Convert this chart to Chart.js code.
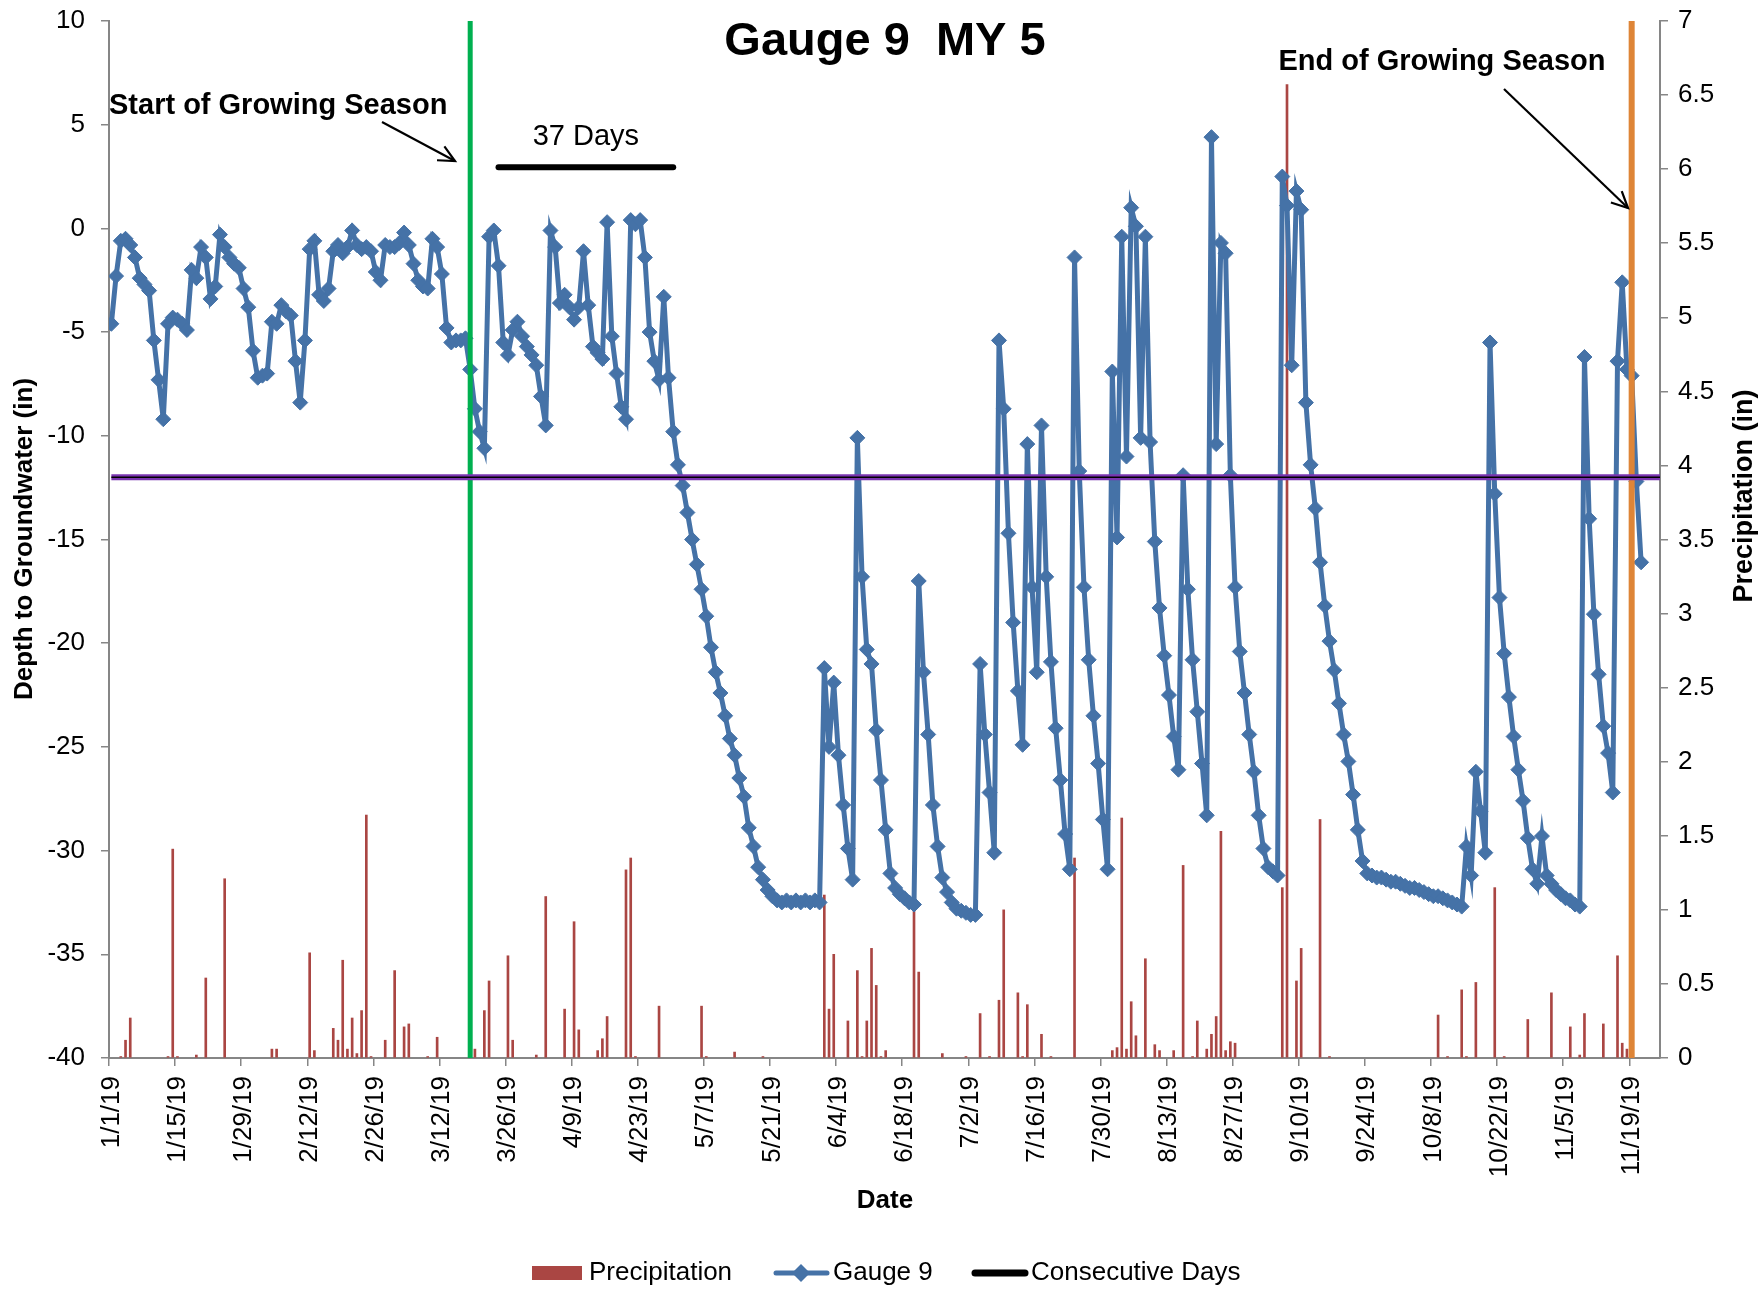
<!DOCTYPE html>
<html>
<head>
<meta charset="utf-8">
<script src="https://cdn.jsdelivr.net/npm/chart.js@4.4.1/dist/chart.umd.min.js"></script>
<style>
html,body{margin:0;padding:0;background:#ffffff;}
#wrap{width:1763px;height:1309px;position:relative;}
</style>
</head>
<body>
<div id="wrap"><canvas id="c" width="1763" height="1309"></canvas></div>
<script>
// ---------------- data ----------------
const chartTitle = 'Gauge 9  MY 5';
const tickLabels = ['1/1/19','1/15/19','1/29/19','2/12/19','2/26/19','3/12/19','3/26/19','4/9/19',
  '4/23/19','5/7/19','5/21/19','6/4/19','6/18/19','7/2/19','7/16/19','7/30/19','8/13/19','8/27/19',
  '9/10/19','9/24/19','10/8/19','10/22/19','11/5/19','11/19/19'];
const axisStart = '1/1/19';
const axisEnd = '11/25/19';
const gaugeStart = '1/1/19';   // first daily reading; one value per day after it
const gaugeDepth = [
  -4.6,-2.3,-0.6,-0.5,-0.8,-1.4,-2.4,-2.7,-3.0,-5.4,
  -7.3,-9.2,-4.6,-4.3,-4.4,-4.6,-4.9,-2.0,-2.4,-0.9,
  -1.4,-3.4,-2.8,-0.3,-0.9,-1.4,-1.7,-1.9,-2.9,-3.8,
  -5.9,-7.2,-7.1,-7.0,-4.5,-4.6,-3.7,-4.0,-4.2,-6.4,
  -8.4,-5.4,-1.0,-0.6,-3.2,-3.5,-2.9,-1.1,-0.8,-1.2,
  -0.9,-0.1,-0.8,-1.0,-0.9,-1.1,-2.1,-2.5,-0.8,-0.9,
  -0.9,-0.7,-0.2,-0.8,-1.7,-2.5,-2.8,-2.9,-0.5,-0.9,
  -2.2,-4.8,-5.5,-5.4,-5.4,-5.3,-6.8,-8.7,-9.8,-10.6,
  -0.4,-0.1,-1.8,-5.5,-6.1,-4.9,-4.5,-5.2,-5.7,-6.1,
  -6.6,-8.1,-9.5,-0.1,-0.9,-3.6,-3.2,-3.8,-4.4,-3.8,
  -1.1,-3.7,-5.7,-6.0,-6.3,0.3,-5.2,-7.0,-8.6,-9.2,
  0.4,0.2,0.4,-1.4,-5.0,-6.4,-7.3,-3.3,-7.2,-9.8,
  -11.4,-12.4,-13.7,-15.0,-16.2,-17.4,-18.7,-20.2,-21.4,-22.4,
  -23.5,-24.6,-25.4,-26.5,-27.4,-28.9,-29.8,-30.8,-31.4,-31.9,
  -32.2,-32.4,-32.5,-32.4,-32.5,-32.4,-32.5,-32.4,-32.5,-32.4,
  -32.5,-21.2,-25.0,-21.9,-25.4,-27.8,-29.9,-31.4,-10.1,-16.8,
  -20.3,-21.0,-24.2,-26.6,-29.0,-31.1,-31.8,-32.1,-32.3,-32.5,
  -32.6,-17.0,-21.4,-24.4,-27.8,-29.8,-31.3,-32.0,-32.5,-32.8,
  -32.9,-33.0,-33.1,-33.1,-21.0,-24.4,-27.2,-30.1,-5.4,-8.7,
  -14.7,-19.0,-22.3,-24.9,-10.4,-17.3,-21.4,-9.5,-16.8,-20.9,
  -24.1,-26.6,-29.2,-30.9,-1.4,-11.7,-17.3,-20.8,-23.5,-25.8,
  -28.5,-30.9,-6.9,-14.9,-0.4,-11.0,1.0,0.1,-10.1,-0.4,
  -10.3,-15.1,-18.3,-20.6,-22.5,-24.5,-26.1,-11.9,-17.4,-20.8,
  -23.3,-25.8,-28.3,4.4,-10.4,-0.7,-1.2,-11.9,-17.3,-20.4,
  -22.4,-24.4,-26.2,-28.3,-29.9,-30.8,-31.0,-31.2,2.5,1.1,
  -6.6,1.8,0.9,-8.4,-11.4,-13.5,-16.1,-18.2,-19.9,-21.3,
  -22.9,-24.4,-25.7,-27.3,-29.0,-30.5,-31.1,-31.2,-31.3,-31.3,
  -31.4,-31.5,-31.5,-31.6,-31.7,-31.8,-31.8,-31.9,-32.0,-32.1,
  -32.2,-32.2,-32.3,-32.4,-32.5,-32.6,-32.7,-29.8,-31.2,-26.2,
  -28.1,-30.1,-5.5,-12.8,-17.8,-20.5,-22.6,-24.5,-26.1,-27.6,
  -29.4,-30.9,-31.6,-29.3,-31.2,-31.6,-31.9,-32.1,-32.3,-32.4,
  -32.6,-32.7,-6.2,-14.0,-18.6,-21.5,-24.0,-25.3,-27.2,-6.4,
  -2.6,-6.8,-7.1,-12.2,-16.1
];
const precipDates = ['1/3/19','1/4/19','1/5/19','1/13/19','1/14/19','1/15/19','1/19/19','1/21/19','1/25/19',
  '2/4/19','2/5/19','2/12/19','2/13/19','2/17/19','2/18/19','2/19/19','2/20/19','2/21/19','2/22/19','2/23/19',
  '2/24/19','2/25/19','2/28/19','3/2/19','3/4/19','3/5/19','3/9/19','3/11/19','3/19/19','3/21/19','3/22/19',
  '3/26/19','3/27/19','4/1/19','4/3/19','4/7/19','4/9/19','4/10/19','4/14/19','4/15/19','4/16/19','4/20/19',
  '4/21/19','4/22/19','4/27/19','5/6/19','5/7/19','5/13/19','5/19/19','6/1/19','6/2/19','6/3/19','6/6/19',
  '6/8/19','6/9/19','6/10/19','6/11/19','6/12/19','6/13/19','6/14/19','6/20/19','6/21/19','6/26/19','7/1/19',
  '7/4/19','7/6/19','7/8/19','7/9/19','7/12/19','7/13/19','7/14/19','7/17/19','7/19/19','7/24/19','8/1/19',
  '8/2/19','8/3/19','8/4/19','8/5/19','8/6/19','8/8/19','8/10/19','8/11/19','8/14/19','8/16/19','8/18/19',
  '8/19/19','8/21/19','8/22/19','8/23/19','8/24/19','8/25/19','8/26/19','8/27/19','9/6/19','9/7/19','9/9/19',
  '9/10/19','9/14/19','9/16/19','10/9/19','10/11/19','10/14/19','10/15/19','10/17/19','10/21/19','10/23/19',
  '10/28/19','11/2/19','11/6/19','11/8/19','11/9/19','11/13/19','11/16/19','11/17/19','11/18/19'];
const precipInches = [0.01,0.12,0.27,0.01,1.41,0.01,0.02,0.54,1.21,
  0.06,0.06,0.71,0.05,0.20,0.12,0.66,0.06,0.27,0.03,0.32,
  1.64,0.01,0.12,0.59,0.21,0.23,0.01,0.14,0.06,0.32,0.52,
  0.69,0.12,0.02,1.09,0.33,0.92,0.19,0.05,0.13,0.28,1.27,
  1.35,0.01,0.35,0.35,0.01,0.04,0.01,1.10,0.33,0.70,0.25,
  0.59,0.01,0.25,0.74,0.49,0.01,0.05,1.30,0.58,0.03,0.01,
  0.30,0.01,0.39,1.00,0.44,0.01,0.36,0.16,0.01,1.35,0.05,
  0.07,1.62,0.06,0.38,0.15,0.67,0.09,0.05,0.05,1.30,0.01,
  0.25,0.06,0.16,0.28,1.53,0.05,0.11,0.10,1.15,6.57,0.52,
  0.74,1.61,0.01,0.29,0.01,0.46,0.01,0.51,1.15,0.01,
  0.26,0.44,0.21,0.02,0.30,0.23,0.69,0.10,0.06];
const criterionDepth = -12;               // threshold line (in)
const consecutiveStart = '3/24/19';
const consecutiveEnd = '4/30/19';
const consecutiveLevel = 2.95;
const consecutiveText = '37 Days';
const seasonStart = '3/18/19';
const seasonEnd = '11/19/19';

// ---------------- helpers ----------------
function dayIndex(s) {
  const p = s.split('/').map(Number);
  const d = new Date(2000 + p[2], p[0] - 1, p[1]);
  const o = new Date(2019, 0, 1);
  return Math.round((d - o) / 86400000);
}
const g0 = dayIndex(gaugeStart);
const gaugeData = gaugeDepth.map((v, i) => ({x: g0 + i, y: v}));
const precipData = precipDates.map((d, i) => ({x: dayIndex(d), y: precipInches[i]}));
const xMin = dayIndex(axisStart) - 0.5;
const xMax = dayIndex(axisEnd) + 0.0;
const tickVals = tickLabels.map(t => dayIndex(t) - 0.5);

const FONT = '"Liberation Sans", Arial, Helvetica, sans-serif';
const AXIS = '#868686';

const overlay = {
  id: 'overlay',
  afterDraw(chart) {
    const ctx = chart.ctx;
    const xs = chart.scales.x, ys = chart.scales.y;
    ctx.save();
    ctx.fillStyle = '#000';
    ctx.textBaseline = 'middle';
    // title
    ctx.font = 'bold 47px ' + FONT;
    ctx.textAlign = 'center';
    ctx.fillText(chartTitle, 885, 42);
    // season labels
    ctx.font = 'bold 29px ' + FONT;
    ctx.textAlign = 'left';
    ctx.fillText('Start of Growing Season', 109, 106);
    ctx.textAlign = 'center';
    ctx.fillText('End of Growing Season', 1442, 62);
    // 37 days
    ctx.font = '29px ' + FONT;
    const cx = (xs.getPixelForValue(dayIndex(consecutiveStart)) + xs.getPixelForValue(dayIndex(consecutiveEnd))) / 2;
    ctx.fillText(consecutiveText, cx, ys.getPixelForValue(consecutiveLevel) - 30);
    // arrows
    function arrow(x1, y1, x2, y2) {
      ctx.strokeStyle = '#000';
      ctx.lineWidth = 2.2;
      ctx.beginPath(); ctx.moveTo(x1, y1); ctx.lineTo(x2, y2); ctx.stroke();
      const a = Math.atan2(y2 - y1, x2 - x1), L = 18, w = 0.45;
      ctx.beginPath();
      ctx.moveTo(x2 - L * Math.cos(a - w), y2 - L * Math.sin(a - w));
      ctx.lineTo(x2, y2);
      ctx.lineTo(x2 - L * Math.cos(a + w), y2 - L * Math.sin(a + w));
      ctx.stroke();
    }
    arrow(382, 122, 455, 161);
    arrow(1504, 89, 1628, 208);
    // axis titles
    ctx.fillStyle = '#000';
    ctx.font = 'bold 26px ' + FONT;
    ctx.textAlign = 'center';
    ctx.fillText('Date', 885, 1201);
    ctx.save();
    ctx.translate(25, 539); ctx.rotate(-Math.PI / 2);
    ctx.fillText('Depth to Groundwater (in)', 0, 0);
    ctx.restore();
    ctx.save();
    ctx.translate(1745, 496); ctx.rotate(-Math.PI / 2);
    ctx.font = 'bold 27px ' + FONT;
    ctx.fillText('Precipitation (in)', 0, 0);
    ctx.restore();
    // legend
    const ly = 1273;
    ctx.font = '26px ' + FONT;
    ctx.textAlign = 'left';
    ctx.fillStyle = '#AA4643';
    ctx.fillRect(532, ly - 7, 50, 14);
    ctx.fillStyle = '#000';
    ctx.fillText('Precipitation', 589, ly);
    ctx.strokeStyle = '#4572A7'; ctx.lineWidth = 5; ctx.lineCap = 'round';
    ctx.beginPath(); ctx.moveTo(776, ly); ctx.lineTo(827, ly); ctx.stroke();
    ctx.fillStyle = '#4572A7';
    ctx.beginPath(); ctx.moveTo(801, ly - 9); ctx.lineTo(810, ly); ctx.lineTo(801, ly + 9); ctx.lineTo(792, ly); ctx.closePath(); ctx.fill();
    ctx.fillStyle = '#000';
    ctx.fillText('Gauge 9', 833, ly);
    ctx.strokeStyle = '#000'; ctx.lineWidth = 7;
    ctx.beginPath(); ctx.moveTo(975, ly); ctx.lineTo(1025, ly); ctx.stroke();
    ctx.fillText('Consecutive Days', 1031, ly);
    ctx.restore();
  }
};

function noPad(s) { s.paddingTop = 0; s.paddingBottom = 0; }

const ctx = document.getElementById('c').getContext('2d');
new Chart(ctx, {
  type: 'line',
  data: {
    datasets: [
      {label: 'Consecutive Days', type: 'line', yAxisID: 'y', order: 0,
        data: [{x: dayIndex(consecutiveStart), y: consecutiveLevel}, {x: dayIndex(consecutiveEnd), y: consecutiveLevel}],
        borderColor: '#000', borderWidth: 6, borderCapStyle: 'round', pointRadius: 0},
      {label: 'Criterion black', type: 'line', yAxisID: 'y', order: 1,
        data: [{x: dayIndex(gaugeStart), y: criterionDepth}, {x: xMax, y: criterionDepth}],
        borderColor: '#000', borderWidth: 1.5, pointRadius: 0},
      {label: 'Criterion', type: 'line', yAxisID: 'y', order: 2,
        data: [{x: dayIndex(gaugeStart), y: criterionDepth}, {x: xMax, y: criterionDepth}],
        borderColor: '#7A35B0', borderWidth: 6, pointRadius: 0},
      {label: 'Start', type: 'line', yAxisID: 'y', order: 3,
        data: [{x: dayIndex(seasonStart), y: 10}, {x: dayIndex(seasonStart), y: -40}],
        borderColor: '#00B050', borderWidth: 5, pointRadius: 0},
      {label: 'End', type: 'line', yAxisID: 'y', order: 3,
        data: [{x: dayIndex(seasonEnd), y: 10}, {x: dayIndex(seasonEnd), y: -40}],
        borderColor: '#DE8537', borderWidth: 6, pointRadius: 0},
      {label: 'Gauge 9', type: 'line', yAxisID: 'y', order: 5,
        data: gaugeData, borderColor: '#4572A7', borderWidth: 5, tension: 0,
        pointStyle: 'rectRot', pointRadius: 7.5, pointBackgroundColor: '#4572A7',
        pointBorderColor: '#4572A7', pointBorderWidth: 1},
      {label: 'Precipitation', type: 'bar', yAxisID: 'y2', order: 10,
        data: precipData, backgroundColor: '#AA4643', barThickness: 2}
    ]
  },
  options: {
    responsive: false,
    animation: false,
    events: [],
    layout: {padding: {top: 21, bottom: 0, left: 0, right: 0}},
    plugins: {legend: {display: false}, tooltip: {enabled: false}, title: {display: false}},
    scales: {
      x: {
        type: 'linear', position: 'bottom', min: xMin, max: xMax, offset: false,
        afterBuildTicks: s => { s.ticks = tickVals.map(v => ({value: v})); },
        afterFit: s => { s.height = 1309 - 1058; s.paddingLeft = 0; s.paddingRight = 0; },
        grid: {drawOnChartArea: false, drawTicks: true, tickLength: 8, color: AXIS, lineWidth: 1.5, offset: false},
        border: {display: true, color: AXIS, width: 2},
        ticks: {
          autoSkip: false, minRotation: 90, maxRotation: 90, padding: 10,
          labelOffset: 2.4, color: '#000', font: {family: FONT, size: 26},
          callback: (v, i) => tickLabels[i]
        }
      },
      y: {
        type: 'linear', position: 'left', min: -40, max: 10,
        afterBuildTicks: s => { const t = []; for (let v = -40; v <= 10; v += 5) t.push({value: v}); s.ticks = t; },
        afterFit: s => { s.width = 109; noPad(s); },
        grid: {drawOnChartArea: false, drawTicks: true, tickLength: 8, color: AXIS, lineWidth: 1.5},
        border: {display: true, color: AXIS, width: 2},
        ticks: {padding: 16, color: '#000', font: {family: FONT, size: 26}}
      },
      y2: {
        type: 'linear', position: 'right', min: 0, max: 7,
        afterBuildTicks: s => { const t = []; for (let v = 0; v <= 7; v += 0.5) t.push({value: v}); s.ticks = t; },
        afterFit: s => { s.width = 1763 - 1660; noPad(s); },
        grid: {drawOnChartArea: false, drawTicks: true, tickLength: 8, color: AXIS, lineWidth: 1.5},
        border: {display: true, color: AXIS, width: 2},
        ticks: {padding: 10, color: '#000', font: {family: FONT, size: 26},
          callback: v => String(Math.round(v * 10) / 10)}
      }
    }
  },
  plugins: [overlay]
});
</script>
</body>
</html>
